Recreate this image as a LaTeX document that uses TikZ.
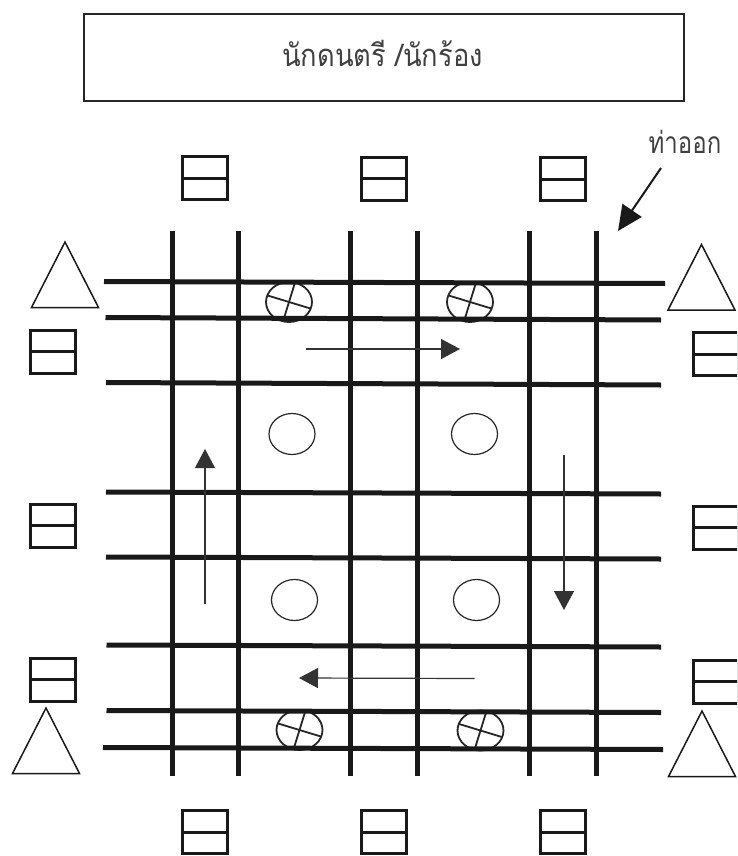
\documentclass[tikz,border=0pt]{standalone}
\usepackage{fontspec}
\usetikzlibrary{arrows.meta,shapes.geometric}
\newfontfamily\thaifont[Script=Thai]{Loma}

\begin{document}
\begin{tikzpicture}[
  x=1pt, y=-1pt,
  titlebox/.style={draw, line width=1.5pt, black!85, minimum width=600pt,
                   minimum height=87pt, inner sep=0pt},
  lbl/.style={text=black!75, inner sep=0pt},
  road/.style={line width=5pt, black!90},
  seat/.style={draw, line width=3pt, black!90, minimum width=45pt, minimum height=43pt,
               inner sep=0pt,
               path picture={\draw[line width=3pt] (path picture bounding box.west) -- (path picture bounding box.east);}},
  tri/.style={line width=1.5pt, black!90},
  post/.style={draw, ellipse, line width=1.2pt, black!85, minimum width=46pt, minimum height=41pt, inner sep=0pt},
  xpost/.style={post, line width=1.8pt, minimum height=40pt,
               path picture={
                 \draw[line width=1.8pt] (path picture bounding box.center) ++(-23,-7) -- ++(46,14);
                 \draw[line width=1.8pt] (path picture bounding box.center) ++(6.5,-21) -- ++(-13,42);}},
  arr/.style={-{Triangle[length=19pt,width=20pt]}, line width=1.2pt, black!80},
  exitarr/.style={-{Triangle[length=25pt,width=23pt]}, line width=2pt, black!90},
]
  \useasboundingbox (0,0) rectangle (737,856);
  \clip (0,0) rectangle (737,856);

  % --- Stage ---
  \node[titlebox] (stage) at (384,57.5) {};
  \node[lbl] (stagelbl) at (382.5,53) {\thaifont\fontsize{31pt}{34pt}\selectfont\scalebox{.88}[1]{นักดนตรี /นักร้อง}};
  \node[lbl] (exitlbl) at (685,142) {\thaifont\fontsize{30pt}{34pt}\selectfont\scalebox{.8}[1]{ท่าออก}};

  % --- Posts under the lines ---
  \node[post] (p1) at (292,434) {};
  \node[post] (p2) at (474.5,434) {};
  \node[post] (p3) at (294.5,600) {};
  \node[post] (p4) at (476.5,600) {};
  \node[xpost] (x1) at (289,302) {};
  \node[xpost] (x2) at (470,302) {};
  \node[xpost] (x3) at (299.5,730) {};
  \node[xpost] (x4) at (480.5,730.5) {};

  % --- Lines ---
  \foreach \xa/\ya/\xb/\yb in {104/281.5/665/283.5, 105.5/317.5/661/320, 106/382.5/661/385,
      106/492/661/494, 106/557/661/559, 106.5/645/661/647, 106.5/710.5/661/712.5, 103/747.5/663/749.5}
    \draw[road] (\xa,\ya) -- (\xb,\yb);
  \foreach \x in {172.5,238.7,350.6,417.8,529.6,596.3}
    \draw[road] (\x,231) -- (\x,776);

  % --- Seats ---
  \node[seat] (top1) at (204.5,178) {};
  \node[seat] (top2) at (383.5,178.5) {};
  \node[seat] (top3) at (562.5,179) {};
  \node[seat] (left1) at (53,351.5) {};
  \node[seat] (left2) at (53,525.5) {};
  \node[seat] (left3) at (53,679.5) {};
  \node[seat] (right1) at (716,354) {};
  \node[seat] (right2) at (716,527.5) {};
  \node[seat] (right3) at (716,681.5) {};
  \node[seat] (bot1) at (204.5,832) {};
  \node[seat] (bot2) at (383.5,832) {};
  \node[seat] (bot3) at (562.5,832) {};

  % --- Triangles ---
  \foreach \x/\y in {65/242, 701.5/244.5, 46/708, 702/711}
    \draw[tri] (\x,\y) -- ++(-33.5,65.5) -- ++(67,0) -- cycle;

  % --- Arrows ---
  \coordinate (a1) at (305.5,349);
  \coordinate (b1) at (460,349);
  \coordinate (a2) at (564,455);
  \coordinate (b2) at (564,610);
  \coordinate (a3) at (474.5,678.5);
  \coordinate (b3) at (299,678);
  \coordinate (a4) at (205,604);
  \coordinate (b4) at (205,449);
  \coordinate (a5) at (661,168);
  \coordinate (b5) at (618,231);
  \draw[arr] (a1) -- (b1);
  \draw[arr] (a2) -- (b2);
  \draw[arr] (a3) -- (b3);
  \draw[arr] (a4) -- (b4);
  \draw[exitarr] (a5) -- (b5);

\end{tikzpicture}
\end{document}
